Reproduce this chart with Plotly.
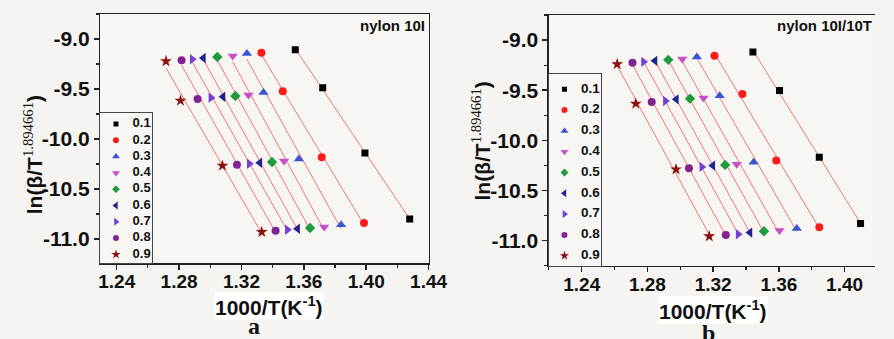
import numpy as np
import plotly.graph_objects as go

W, H = 894, 339

# ---------------- data ----------------
conv_levels = ["0.1", "0.2", "0.3", "0.4", "0.5", "0.6", "0.7", "0.8", "0.9"]

# panel a : nylon 10I   (1000/T, ln(beta/T^1.894661)) for four heating rates
a_invT = [
    [1.3545, 1.3721, 1.3992, 1.4279],
    [1.3328, 1.3465, 1.3715, 1.3986],
    [1.3235, 1.3341, 1.3568, 1.3839],
    [1.3144, 1.3245, 1.3473, 1.3731],
    [1.3045, 1.3161, 1.3396, 1.3640],
    [1.2956, 1.3082, 1.3318, 1.3560],
    [1.2884, 1.3004, 1.3250, 1.3494],
    [1.2816, 1.2919, 1.3171, 1.3419],
    [1.2716, 1.2809, 1.3078, 1.3330],
]
a_lnb = [
    [-9.107, -9.487, -10.140, -10.800],
    [-9.137, -9.523, -10.183, -10.840],
    [-9.145, -9.535, -10.200, -10.858],
    [-9.170, -9.560, -10.220, -10.880],
    [-9.180, -9.570, -10.230, -10.890],
    [-9.190, -9.577, -10.237, -10.897],
    [-9.203, -9.587, -10.247, -10.907],
    [-9.213, -9.600, -10.257, -10.917],
    [-9.223, -9.617, -10.267, -10.930],
]

# panel b : nylon 10I/10T
b_invT = [
    [1.3442, 1.3604, 1.3846, 1.4097],
    [1.3208, 1.3378, 1.3584, 1.3846],
    [1.3101, 1.3240, 1.3446, 1.3709],
    [1.3012, 1.3141, 1.3343, 1.3604],
    [1.2927, 1.3059, 1.3273, 1.3509],
    [1.2846, 1.2976, 1.3198, 1.3424],
    [1.2776, 1.2909, 1.3131, 1.3352],
    [1.2709, 1.2826, 1.3053, 1.3277],
    [1.2616, 1.2729, 1.2974, 1.3176],
]
b_lnb = [
    [-9.120, -9.504, -10.169, -10.830],
    [-9.157, -9.538, -10.202, -10.866],
    [-9.170, -9.554, -10.219, -10.880],
    [-9.190, -9.578, -10.239, -10.900],
    [-9.197, -9.584, -10.245, -10.906],
    [-9.207, -9.591, -10.252, -10.920],
    [-9.217, -9.608, -10.265, -10.937],
    [-9.227, -9.618, -10.279, -10.943],
    [-9.240, -9.634, -10.289, -10.957],
]

y_tick_vals = [-11.0, -10.5, -10.0, -9.5, -9.0]
y_tick_text = ["-11.0", "-10.5", "-10.0", "-9.5", "-9.0"]

# ---------------- styles ----------------
symbols = ["square", "circle", "triangle-up", "triangle-down", "diamond",
           "triangle-left", "triangle-right", "circle", "star"]
colors = ["#000000", "#ff1a1a", "#3a55d0", "#c84fc8", "#1f9a3f",
          "#23238f", "#7442d2", "#82248f", "#8b1010"]
sizes = [7, 8, 9, 9, 8, 9, 9, 8, 9]
FIT_COLOR = "#f07575"
AXC = "#222222"
FONT = "Liberation Sans, Arial, sans-serif"


def fx(px):
    return px / W


def fy(py):
    return 1 - py / H


fig = go.Figure()

panels = [
    ("x", "y", a_invT, a_lnb),
    ("x2", "y2", b_invT, b_lnb),
]
for xa, ya, X, Y in panels:
    for i, lab in enumerate(conv_levels):
        xs = np.array(X[i])
        ys = np.array(Y[i])
        k, b0 = np.polyfit(xs, ys, 1)
        xl = np.array([xs.min(), xs.max()])
        fig.add_trace(go.Scatter(x=xl, y=k * xl + b0, mode="lines",
                                 line=dict(color=FIT_COLOR, width=1),
                                 xaxis=xa, yaxis=ya, showlegend=False,
                                 hoverinfo="skip"))
    for i, lab in enumerate(conv_levels):
        fig.add_trace(go.Scatter(x=X[i], y=Y[i], mode="markers", name=lab,
                                 marker=dict(symbol=symbols[i], color=colors[i],
                                             size=sizes[i], line=dict(width=0)),
                                 xaxis=xa, yaxis=ya, showlegend=False))

# ---------- in-plot legends drawn on auxiliary axes ----------
leg_axes = [("x3", "y3", 13), ("x4", "y4", 13.5)]
for xa, ya, fsz in leg_axes:
    idx = list(range(len(conv_levels)))
    for i, lab in enumerate(conv_levels):
        fig.add_trace(go.Scatter(x=[0], y=[idx[i]], mode="markers",
                                 marker=dict(symbol=symbols[i], color=colors[i],
                                             size=sizes[i] - 2, line=dict(width=0)),
                                 xaxis=xa, yaxis=ya, showlegend=False,
                                 hoverinfo="skip"))
    fig.add_trace(go.Scatter(x=[1] * len(idx), y=idx, mode="text",
                             text=conv_levels, textposition="middle right",
                             textfont=dict(family=FONT, size=fsz, color="#111",
                                           weight="bold"),
                             xaxis=xa, yaxis=ya, showlegend=False,
                             hoverinfo="skip"))

xtickfont = dict(family=FONT, size=19, color="#111", weight="bold")
ytickfont = dict(family=FONT, size=21, color="#111", weight="bold")


def xaxis_style(domain, rng, mirror):
    return dict(domain=domain, range=rng, showline=True, linecolor=AXC,
                linewidth=1.5, mirror=mirror, ticks="outside", ticklen=5,
                tickwidth=1.5, tickcolor=AXC, tick0=1.24, dtick=0.04,
                tickformat=".2f", showgrid=False, zeroline=False,
                tickfont=xtickfont, ticklabelstandoff=-4,
                minor=dict(ticks="outside", ticklen=3, tickwidth=1.2,
                           tickcolor=AXC, tick0=1.24, dtick=0.02, showgrid=False))


def yaxis_style(domain, rng, mirror):
    return dict(domain=domain, range=rng, showline=True, linecolor=AXC,
                linewidth=1.5, mirror=mirror, ticks="outside", ticklen=5,
                tickwidth=1.5, tickcolor=AXC, tickmode="array",
                tickvals=y_tick_vals, ticktext=y_tick_text,
                showgrid=False, zeroline=False, tickfont=ytickfont,
                minor=dict(ticks="outside", ticklen=3, tickwidth=1.2,
                           tickcolor=AXC, tickmode="linear", tick0=-9.0,
                           dtick=0.25, showgrid=False))


def legaxis(domain, rng, anchor):
    return dict(domain=domain, range=rng, anchor=anchor, showline=True,
                linecolor="#444", linewidth=1, mirror=True, ticks="",
                showticklabels=False, showgrid=False, zeroline=False,
                fixedrange=True)


# panel a : plot area px x 100.7..437, y 14..263
# panel b : plot area px x 560..894(+), y 15..265.7
xa = xaxis_style([fx(100.7), fx(437)], [1.2295, 1.4401], True)
xa["anchor"] = "y"
ya = yaxis_style([fy(263), fy(14)], [-11.24, -8.75], True)
ya["anchor"] = "x"
xb = xaxis_style([fx(560), 1.0], [1.22, 1.4185], True)
xb["anchor"] = "y2"
yb = yaxis_style([fy(265.7), fy(15)], [-11.25, -8.75], False)
yb["anchor"] = "x2"

# legend boxes
x3 = legaxis([fx(100.7), fx(153.3)], [-16 / 17, (52.6 - 16) / 17], "y3")
y3 = legaxis([fy(263), fy(112.7)], [(263 - 124) / 16.3, -(124 - 112.7) / 16.3], "x3")
x4 = legaxis([fx(560), fx(613.3)], [-16 / 17, (53.3 - 16) / 17], "y4")
y4 = legaxis([fy(265.7), fy(74)], [(265.7 - 89.3) / 20.8, -(89.3 - 74) / 20.8], "x4")

PAPER = "#f5f4f0"
fig.update_layout(
    width=W, height=H, margin=dict(l=0, r=0, t=0, b=0),
    paper_bgcolor=PAPER, plot_bgcolor="#f7f6f2",
    showlegend=False,
    xaxis=xa, yaxis=ya, xaxis2=xb, yaxis2=yb,
    xaxis3=x3, yaxis3=y3, xaxis4=x4, yaxis4=y4,
    font=dict(family=FONT, color="#111"),
)

ytitle = ('ln(β/T<sup><span style="font-family:Liberation Serif;font-weight:normal">'
          '1.894661</span></sup>)')
xtitle = "1000/T(K<sup>-1</sup>)"
title_font = dict(family=FONT, size=21, color="#111", weight="bold")
serif_bold = dict(family="Liberation Serif, Times New Roman, serif", size=24,
                  color="#111", weight="bold")
ann = [
    dict(text=ytitle, x=fx(32), y=fy(155), textangle=-90, font=title_font),
    dict(text=ytitle, x=fx(491), y=fy(141), textangle=-90, font=title_font),
    dict(text=xtitle, x=fx(273), y=fy(306), font=title_font, bgcolor="#ffffff",
         borderpad=0),
    dict(text=xtitle, x=fx(728), y=fy(310), font=title_font, bgcolor="#ffffff",
         borderpad=0),
    dict(text="a", x=fx(258), y=fy(326), font=serif_bold),
    dict(text="b", x=fx(723), y=fy(333), font=serif_bold),
    dict(text="nylon 10I", x=fx(435), y=fy(25), xanchor="right",
         font=dict(family=FONT, size=15, color="#111", weight="bold")),
    dict(text="nylon 10I/10T", x=fx(893), y=fy(26), xanchor="right",
         font=dict(family=FONT, size=15, color="#111", weight="bold")),
]
for a in ann:
    a.setdefault("xanchor", "center")
    a.setdefault("yanchor", "middle")
    a.update(xref="paper", yref="paper", showarrow=False)
fig.update_layout(annotations=ann)

fig.write_html("out.html",
               config={"displayModeBar": False, "staticPlot": True},
               post_script="document.body.style.margin='0';"
                           "document.body.style.overflow='hidden';")
